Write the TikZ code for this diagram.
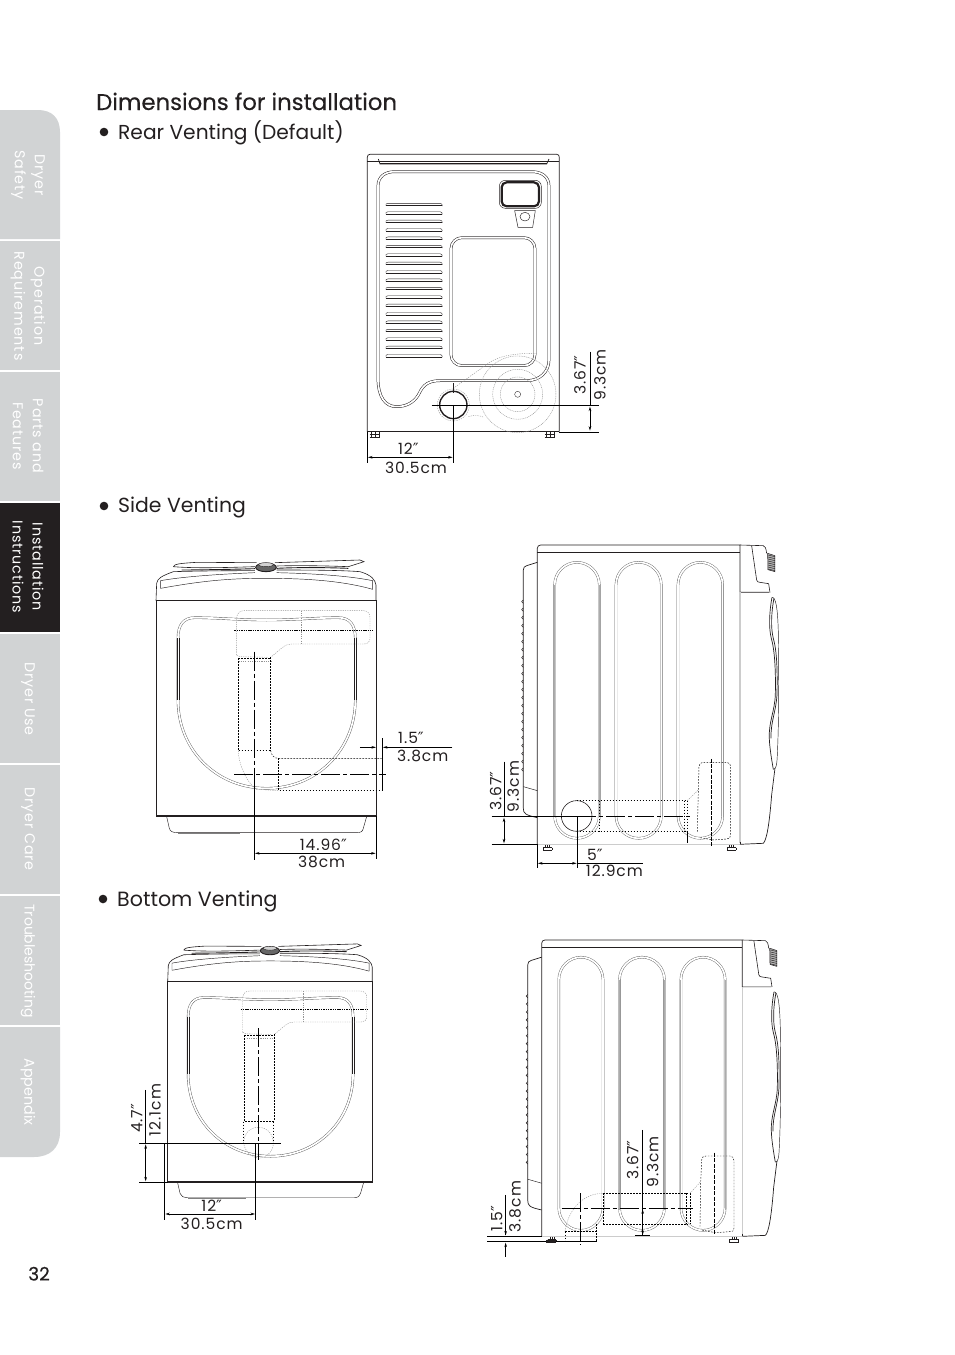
\documentclass[tikz,border=0pt]{standalone}
\usepackage{fontspec}
\setmainfont{Poppins}
\newfontfamily\dejavu{DejaVu Sans}
\newfontfamily\titlefont[FakeBold=.35]{Poppins}
\newfontfamily\spaced[LetterSpace=6]{Poppins}
\usetikzlibrary{arrows.meta}
\definecolor{tabgray}{HTML}{D1D3D4}
\definecolor{tabblack}{HTML}{231F20}
\definecolor{ink}{HTML}{231F20}
\definecolor{dblgray}{HTML}{555555}
\newcommand\inch{{\dejavu\char"2033}}
\tikzset{
 tabtext/.style={rotate=-90,align=center,text=white,font=\spaced\fontsize{14.3}{20}\selectfont},
 tabplain/.style={rotate=-90,align=center,text=white,font=\fontsize{14.3}{20}\selectfont},
 head/.style={anchor=base west,text=ink,inner sep=0pt},
 dimtext/.style={text=ink,inner sep=0pt,font=\spaced\fontsize{15.5}{17}\selectfont},
 body/.style={draw=ink,line width=.7pt},
 fine/.style={draw=ink,line width=.45pt},
 dbl/.style={draw=dblgray,line width=.4pt,double=white,double distance=1.7pt},
 dimline/.style={draw=black,line width=.7pt},
 dimarrow/.style={draw=black,line width=.6pt,{Stealth[length=4.5pt,width=2.6pt]}-{Stealth[length=4.5pt,width=2.6pt]}},
 onearrow/.style={draw=black,line width=.6pt,-{Stealth[length=4.5pt,width=2.6pt]}},
 blackdash/.style={draw=black,line width=.45pt,dash pattern=on 1.6pt off 1.4pt},
 graydash/.style={draw=gray!85,line width=.4pt,dash pattern=on 1.2pt off 1.1pt},
 centre/.style={draw=black,line width=.65pt,dash pattern=on 19pt off 3pt on 4pt off 3pt},
 thickdot/.style={draw=black,line width=1.1pt,dash pattern=on 1.4pt off .9pt},
 thickdash/.style={draw=black,line width=1.1pt,dash pattern=on 4pt off 1.2pt},
}
\newcommand\frontview{
 \draw[body] (48,152) rectangle (708,798);
 \draw[draw=ink,line width=1.3pt] (48,798)--(708,798);
 \draw[fine,line width=.6pt] (48,152)--(50,100) .. controls (52,85) and (65,78) .. (100,65) .. controls (200,62) and (300,62) .. (345,62);
 \draw[fine,line width=.6pt] (708,152)--(708,105) .. controls (706,90) and (695,75) .. (660,65) .. controls (600,60) and (480,60) .. (410,60);
 \draw[fine] (62,115)--(62,92) .. controls (150,76) and (300,70) .. (345,68);
 \draw[fine] (410,68) .. controls (500,70) and (620,76) .. (698,92)--(698,118);
 \draw[fine] (62,115) .. controls (200,90) and (280,85) .. (378,85) .. controls (480,85) and (600,90) .. (698,118);
 \draw[fine,line width=.6pt] (100,50) .. controls (102,42) and (120,40) .. (170,37)--(350,38);
 \draw[fine,line width=.6pt] (405,38)--(660,30)--(672,35)--(625,50) .. controls (550,47) and (470,46) .. (410,48);
 \draw[fine,line width=.6pt] (100,50) .. controls (170,56) and (280,52) .. (345,50);
 \draw[fine,line width=.9pt] (125,60) .. controls (170,60) and (280,58) .. (345,56);
 \draw[fine,line width=.9pt] (410,55) .. controls (470,52) and (550,52) .. (625,55);
 \filldraw[draw=ink,fill=gray!80!black,line width=.9pt] (378,52) ellipse [x radius=31,y radius=13];
 \filldraw[draw=ink,fill=gray!35,line width=.4pt] (378,44) ellipse [x radius=22,y radius=6];
 \draw[fine] (80,800)--(88,835) .. controls (90,845) and (100,848) .. (112,848)--(650,848) .. controls (662,848) and (668,845) .. (670,835)--(680,800);
 \draw[draw=gray,line width=.9pt] (115,851)--(300,851);
 \draw[dbl] (114,265) .. controls (114,225) and (130,203) .. (165,203) .. controls (230,203) and (300,210) .. (380,210) .. controls (460,210) and (530,203) .. (595,203) .. controls (630,203) and (646,225) .. (646,265)--(646,450) .. controls (646,600) and (530,715) .. (380,715) .. controls (230,715) and (114,600) .. (114,450)--cycle;
 \draw[draw=ink,line width=.55pt] (110.5,265)--(110.5,450) (117.5,265)--(117.5,450) (642.5,265)--(642.5,450) (649.5,265)--(649.5,450);
 \draw[graydash] (290,315)--(290,205) .. controls (290,190) and (300,182) .. (312,182)--(670,182) .. controls (682,182) and (690,190) .. (690,202)--(690,265) .. controls (690,276) and (682,282) .. (672,282)--(455,282) .. controls (435,282) and (425,295) .. (392,322);
 \draw[graydash] (485,182)--(485,282);
 \draw[graydash] (290,315)--(300,320)--(385,322);
 \draw[thickdot] (283,242)--(698,242);
 \draw[blackdash] (295,324)--(390,324);
 \draw[graydash] (295,334)--(392,334);
 \draw[blackdash] (295,324)--(295,602)--(390,602);
 \draw[blackdash] (392,322)--(392,602);
}
\newcommand\sideview{
 \draw[body] (172,928)--(172,40) .. controls (172,34) and (176,30) .. (182,30)--(780,30)--(780,172)--(868,172);
 \draw[body] (172,52)--(780,52);
 \draw[draw=gray!40,line width=1.2pt] (172,928)--(780,928);
 \draw[draw=gray!40,line width=1.2pt] (780,172)--(780,925);
 \draw[body] (780,928)--(850,925) .. controls (860,915) and (868,870) .. (875,780)--(885,700);
 \draw[body] (780,920)--(780,928);
 \draw[fine,line width=.6pt] (780,30)--(850,32) .. controls (856,33) and (858,40) .. (860,55);
 \draw[fine,line width=.6pt] (815,32)--(830,135) .. controls (831,140) and (835,142) .. (840,142)--(866,146)--(870,172);
 \filldraw[draw=ink,fill=gray!60,line width=.5pt] (863,55)--(885,62)--(885,110)--(864,104)--cycle;
 \foreach \k in {0,...,7} {\draw[fine] (864,{60+\k*6})--(885,{65+\k*6});}
 \draw[fine] (876,187) .. controls (888,187) and (893,220) .. (895,290) .. controls (897,420) and (897,560) .. (892,660) .. controls (891,690) and (888,703) .. (880,703);
 \draw[draw=ink,line width=.7pt] (876,187) .. controls (868,230) and (866,280) .. (874,310) .. controls (883,340) and (888,400) .. (886,480) .. controls (884,530) and (866,560) .. (868,610) .. controls (869,640) and (876,680) .. (880,703);
 \draw[draw=ink,line width=.7pt] (882,190) .. controls (874,230) and (872,280) .. (880,310) .. controls (890,345) and (893,400) .. (891,480) .. controls (888,530) and (872,560) .. (873,610);
 \draw[body] (172,82)--(140,92) .. controls (133,94) and (130,98) .. (130,105)--(130,820) .. controls (130,835) and (135,840) .. (172,848);
 \draw[fine] (130,755)--(172,767);
 \foreach \k in {0,...,21} {\draw[fine,line width=.5pt] (130,{195+\k*24}) arc[start angle=-90,end angle=-270,radius=5];}
 \foreach \a/\b in {224/358,408/544,594/728} {\draw[dbl,draw=gray!75!black,rounded corners=22.5pt] (\a,82) rectangle (\b,910);}
 \draw[fine] (203,930)--(203,938) (197,930)--(197,938) (209,930)--(209,938);
 \draw[fine] (190,938)--(216,938) (190,946)--(216,946) (190,938)--(190,946) (216,938)--(216,946);
 \draw[fine] (755,930)--(755,938) (749,930)--(749,938) (761,930)--(761,938);
 \draw[fine] (741,938)--(769,938) (741,946)--(769,946) (741,938)--(741,946) (769,938)--(769,946);
}
\begin{document}
\begin{tikzpicture}[x=1pt,y=-1pt]
\useasboundingbox (0,0) rectangle (954,1355);
% side tabs
\fill[tabgray] (0,239)--(0,110)--(38,110) .. controls (52,110) and (60,118) .. (60,132)--(60,239)--cycle;
\fill[tabgray] (0,241) rectangle (60,370);
\fill[tabgray] (0,372) rectangle (60,501);
\fill[tabblack] (0,503) rectangle (60,632);
\fill[tabgray] (0,634) rectangle (60,763);
\fill[tabgray] (0,765) rectangle (60,894);
\fill[tabgray] (0,896) rectangle (60,1025);
\fill[tabgray] (0,1027)--(60,1027)--(60,1132) .. controls (60,1148) and (50,1157) .. (34,1157)--(0,1157)--cycle;
\node[tabtext] (t1) at (28,175) {Dryer\\Safety};
\node[tabtext] (t2) at (28,306) {Operation\\Requirements};
\node[tabtext] (t3) at (28,436) {Parts and\\Features};
\node[tabtext] (t4) at (28,567) {Installation\\Instructions};
\node[tabtext] (t5) at (28,699) {Dryer Use};
\node[tabtext] (t6) at (28,829) {Dryer Care};
\node[tabplain,font=\fontsize{14}{19}\selectfont] (t7) at (28,961) {Troubleshooting};
\node[tabplain] (t8) at (28,1092) {Appendix};
\node[head,font=\titlefont\fontsize{18.5}{20}\selectfont,anchor=base] (pg) at (39,1280.5) {32};
% headings
\node[head,font=\titlefont\fontsize{22.8}{24}\selectfont] (h0) at (96,110) {Dimensions for installation};
\fill[ink] (104,132) circle [radius=4.3];
\node[head,font=\fontsize{20.2}{22}\selectfont] (h1) at (118,139) {Rear Venting (Default)};
\fill[ink] (104,506) circle [radius=4.3];
\node[head,font=\fontsize{20.4}{22}\selectfont] (h2) at (118,512) {Side Venting};
\fill[ink] (103,899) circle [radius=4.3];
\node[head,font=\fontsize{20.6}{22}\selectfont] (h3) at (117,906) {Bottom Venting};
% ---- rear view
\begin{scope}[xshift=350pt,yshift=-140pt,x=.3333pt,y=-.3333pt]
 \draw[body] (52,875)--(52,52) .. controls (52,46) and (55,43) .. (60,43)--(620,43) .. controls (625,43) and (628,46) .. (628,52)--(628,875);
 \draw[body] (52,65)--(628,65);
 \draw[draw=ink,line width=.7pt] (85,57)--(90,72)--(590,72)--(597,57);
 \draw[draw=ink,line width=1.1pt] (90,70)--(590,70);
 \draw[draw=ink,line width=.9pt] (52,875)--(628,875);
 \foreach \x in {75,600} {
  \draw[fine] (\x-12,875)--(\x-12,892) (\x,875)--(\x,892) (\x+12,875)--(\x+12,892);
  \draw[fine,line width=.8pt] (\x-16,884)--(\x+16,884) (\x-16,892)--(\x+16,892);
 }
 \draw[dbl,draw=ink,line width=.5pt] (84,715)--(84,138) .. controls (84,110) and (105,95) .. (135,95)--(545,95) .. controls (575,95) and (597,110) .. (597,138)--(597,660) .. controls (597,695) and (570,722) .. (530,722)--(270,722) .. controls (225,722) and (215,745) .. (205,765) .. controls (190,790) and (165,800) .. (140,800) .. controls (105,800) and (84,770) .. (84,715);
 \foreach \k in {0,...,18} {
  \pgfmathsetmacro\yy{190+\k*25.2}
  \draw[draw=ink,line width=1pt] (108,\yy+8)--(277,\yy+8);
  \draw[draw=ink,line width=.4pt] (108,\yy+8) .. controls (106,\yy+3) and (108,\yy) .. (114,\yy)--(270,\yy) .. controls (275,\yy) and (277,\yy+3) .. (277,\yy+8);
 }
 \draw[dbl,draw=ink,line width=.5pt,rounded corners=11pt] (303,293) rectangle (555,677);
 \draw[draw=ink,line width=2.2pt,rounded corners=5pt] (455,127) rectangle (567,199);
 \draw[fine,rounded corners=6pt] (448,121) rectangle (574,205);
 \draw[fine] (494,212)--(504,262)--(548,262)--(556,212)--cycle;
 \draw[fine] (525,230) ellipse [x radius=15,y radius=13];
 \draw[draw=gray!80,line width=.45pt,dash pattern=on 1pt off .8pt] (503,763) circle [radius=115] (503,763) circle [radius=75] (503,763) circle [radius=52];
 \draw[fine,line width=.35pt] (503,763) circle [radius=9];
 \draw[graydash] (310,745)--(415,670) .. controls (450,645) and (500,640) .. (560,640);
 \draw[graydash] (355,830) .. controls (370,825) and (385,825) .. (402,832);
 \draw[draw=ink,line width=1.4pt] (310,795) circle [radius=41];
 \draw[graydash] (310,795) circle [radius=48];
 \draw[fine] (310,730)--(310,760);
 % dimensions
 \draw[dimline] (245,795)--(747,795);
 \draw[dimline] (628,876)--(747,876);
 \draw[dimline] (720,635)--(720,795);
 \draw[dimarrow] (720,800)--(720,872);
 \draw[dimline] (52,875)--(52,970);
 \draw[dimline] (310,795)--(310,970);
 \draw[dimarrow] (54,952)--(308,952);
 \node[dimtext,rotate=90] (a1) at (690,705) {3.67\inch};
 \node[dimtext,rotate=90] (a2) at (750,705) {9.3cm};
 \node[dimtext] (a3) at (175,926) {12\inch};
 \node[dimtext] (a4) at (198,983) {30.5cm};
\end{scope}
% ---- side venting, front view
\begin{scope}[xshift=140pt,yshift=-550pt,x=.3333pt,y=-.3333pt]
 \frontview
 \draw[blackdash] (392,602) .. controls (394,615) and (402,625) .. (414,625)--(725,625);
 \draw[blackdash] (415,625)--(415,720)--(725,720);
 \draw[draw=black,line width=.7pt] (725,720)--(727,720)--(727,565);
 \draw[graydash] (295,602) .. controls (295,640) and (320,700) .. (350,718)--(415,722);
 \draw[centre] (343,305)--(343,673);
 \draw[dimline] (343,673)--(343,930);
 \draw[centre] (283,673)--(738,673);
 \draw[dimline] (709,798)--(709,928);
 \draw[onearrow] (660,592)--(708,592);
 \draw[onearrow] (937,592)--(729,592);
 \draw[dimarrow] (345,910)--(707,910);
 \node[dimtext] (b1) at (813,565) {1.5\inch};
 \node[dimtext] (b2) at (848,617) {3.8cm};
 \node[dimtext] (b3) at (550,885) {14.96\inch};
 \node[dimtext] (b4) at (545,937) {38cm};
\end{scope}
% ---- side venting, side view
\begin{scope}[xshift=480pt,yshift=-535pt,x=.3333pt,y=-.3333pt]
 \sideview
 \draw[draw=gray!65,line width=1pt] (224,150)--(224,845) (358,150)--(358,845);
 \draw[fine,line width=.6pt] (290,843) circle [radius=46];
 \draw[blackdash] (290,797)--(622,797) (290,888)--(622,888) (358,797)--(358,888) (622,797)--(622,888) (612,797)--(612,888);
 \draw[graydash] (622,797)--(655,765);
 \draw[blackdash] (652,890)--(655,770)--(657,695) .. controls (658,688) and (662,682) .. (668,682)--(740,682) .. controls (748,682) and (752,688) .. (752,695)--(752,900) .. controls (752,908) and (748,912) .. (740,912)--(700,915)--(660,908);
 \draw[thickdash] (695,672)--(695,935);
 \draw[centre] (292,845)--(630,845);
 \draw[dimline] (35,845)--(292,845) (35,928)--(172,928);
 \draw[dimline] (292,845)--(292,1000) (172,928)--(172,1000);
 \draw[dimline] (622,888)--(622,925);
 \draw[dimline] (72,680)--(72,845);
 \draw[dimarrow] (72,848)--(72,925);
 \draw[dimline] (292,985)--(490,985);
 \draw[dimarrow] (174,985)--(290,985);
 \node[dimtext,rotate=90] (c1) at (47,768) {3.67\inch};
 \node[dimtext,rotate=90] (c2) at (100,755) {9.3cm};
 \node[dimtext] (c3) at (345,960) {5\inch};
 \node[dimtext] (c4) at (403,1008) {12.9cm};
\end{scope}
% ---- bottom venting, front view
\begin{scope}[xshift=152.8pt,yshift=-934.6pt,x=.31pt,y=-.31pt]
 \frontview
\end{scope}
\begin{scope}[xshift=120pt,yshift=-930pt,x=.3333pt,y=-.3333pt]
 \draw[graydash] (371,640) .. controls (371,610) and (390,592) .. (415,592) .. controls (440,592) and (460,610) .. (460,640) .. controls (460,665) and (440,682) .. (415,685) .. controls (395,682) and (375,665) .. (371,640);
 \draw[blackdash] (460,575)--(460,640) (371,575)--(371,640);
 \draw[centre] (415,295)--(415,690);
 \draw[dimline] (58,640)--(483,640);
 \draw[dimline] (407,640)--(407,870) (134,640)--(134,870);
 \draw[dimline] (58,757)--(143,757);
 \draw[dimline] (77,480)--(77,640);
 \draw[dimarrow] (77,643)--(77,754);
 \draw[dimarrow] (136,852)--(405,852);
 \node[dimtext,rotate=90] (d1) at (50,565) {4.7\inch};
 \node[dimtext,rotate=90] (d2) at (105,540) {12.1cm};
 \node[dimtext] (d3) at (275,828) {12\inch};
 \node[dimtext] (d4) at (275,882) {30.5cm};
\end{scope}
% ---- bottom venting, side view
\begin{scope}[xshift=541.7pt-56.8pt,yshift=-940pt+9.9pt,x=.33pt,y=-.33pt]
 \sideview
\end{scope}
\begin{scope}[xshift=480pt,yshift=-930pt,x=.3333pt,y=-.3333pt]
 \draw[draw=gray!65,line width=1pt] (418,150)--(418,840) (553,150)--(553,840) (603,150)--(603,840) (738,150)--(738,840);
 \draw[blackdash] (370,790)--(625,790) (370,883)--(625,883) (370,790)--(370,883) (630,790)--(630,883) (618,790)--(618,883);
 \draw[graydash] (255,905) .. controls (262,850) and (300,790) .. (370,790);
 \draw[graydash] (630,790)--(662,755);
 \draw[blackdash] (255,905)--(350,905)--(350,935) (255,905)--(255,935) (350,883)--(350,905);
 \draw[blackdash] (660,890)--(662,760)--(665,690) .. controls (666,682) and (670,678) .. (678,678)--(750,678) .. controls (758,678) and (762,684) .. (762,692)--(762,895) .. controls (762,903) and (758,905) .. (750,905)--(705,908)--(665,900);
 \draw[blackdash,line width=.6pt,dash pattern=on 4pt off 1.5pt] (703,668)--(703,915);
 \draw[centre] (245,835)--(640,835);
 \draw[centre] (300,790)--(300,945);
 \draw[dimline] (22,918)--(185,918);
 \draw[dimline] (22,935)--(350,935);
 \fill[ink] (197,929) rectangle (227,939);
 \draw[dimline] (77,795)--(77,915);
 \draw[onearrow] (77,980)--(77,938);
 \draw[onearrow] (77,880)--(77,916);
 \draw[dimline] (488,600)--(488,915);
 \draw[dimline,line width=1pt] (465,918)--(510,918);
 \draw[dimarrow] (488,838)--(488,915);
 \node[dimtext,rotate=90] (e1) at (50,865) {1.5\inch};
 \node[dimtext,rotate=90] (e2) at (105,830) {3.8cm};
 \node[dimtext,rotate=90] (e3) at (458,690) {3.67\inch};
 \node[dimtext,rotate=90] (e4) at (518,695) {9.3cm};
\end{scope}
\end{tikzpicture}
\end{document}
